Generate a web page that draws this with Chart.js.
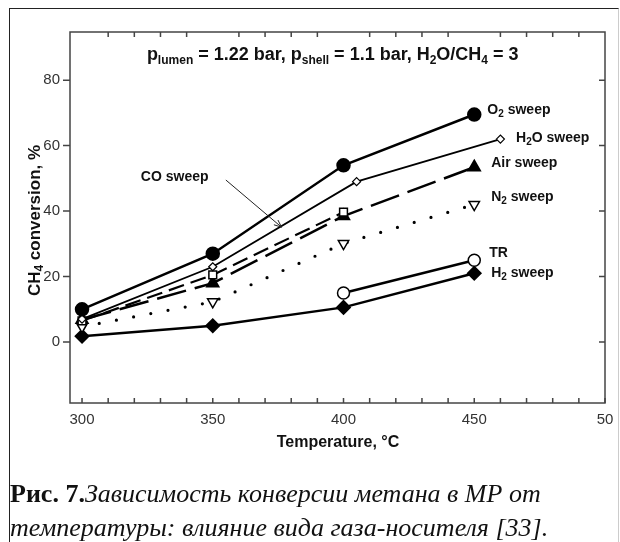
<!DOCTYPE html>
<html>
<head>
<meta charset="utf-8">
<script src="https://cdn.jsdelivr.net/npm/chart.js@4"></script>
<style>
  html, body { margin: 0; padding: 0; background: #fff; }
  #wrap { position: relative; width: 620px; height: 542px; overflow: hidden; }
  #frame { position: absolute; left: 9px; top: 8px; width: 608px; height: 540px;
           border-left: 1.5px solid #222; border-top: 1.5px solid #222; border-right: 1px solid #ccc; }
  canvas { position: absolute; left: 0; top: 0; }
  .cap { position: absolute; left: 10px; font-family: "Liberation Serif", serif; font-size: 26px;
         color: #111; white-space: nowrap; }
  .cap b { font-style: normal; }
  .cap i { font-style: italic; }
</style>
</head>
<body>
<div id="wrap">
  <div id="frame"></div>
  <canvas id="chart" width="620" height="542"></canvas>
  <div class="cap" style="top:479px"><b>Рис. 7.</b><i>Зависимость конверсии метана в МР от</i></div>
  <div class="cap" style="top:513px"><i>температуры: влияние вида газа-носителя [33].</i></div>
</div>
<script>
// data
const temps = [300, 350, 400, 450];
const o2Sweep = [10, 27, 54, 69.5];
const h2oTemps = [300, 350, 405, 460];
const h2oSweep = [7, 23, 49, 62];
const coTemps = [300, 350, 400];
const coSweep = [6.5, 20.5, 39.7];
const airSweep = [6.8, 18, 38.5, 53.4];
const n2Sweep = [4.7, 12.3, 30.1, 42];
const trTemps = [400, 450];
const trValues = [15, 25];
const h2Sweep = [1.8, 5, 10.6, 21];

const xTicks = [300, 350, 400, 450, 500];
const xTickLabels = ["300", "350", "400", "450", "50"];
const yTicks = [0, 20, 40, 60, 80];

// text labels, anchored in data units
const seriesLabels = [
  { x: 455, y: 70.8, parts: ["O", ["2"], " sweep"] },
  { x: 466, y: 62.3, parts: ["H", ["2"], "O sweep"] },
  { x: 456.5, y: 54.7, parts: ["Air sweep"] },
  { x: 456.5, y: 44.3, parts: ["N", ["2"], " sweep"] },
  { x: 455.7, y: 27.2, parts: ["TR"] },
  { x: 456.5, y: 21, parts: ["H", ["2"], " sweep"] },
  { x: 322.5, y: 50.4, parts: ["CO sweep"] }
];
const titleParts = ["p", ["lumen"], " = 1.22 bar, p", ["shell"], " = 1.1 bar, H", ["2"], "O/CH", ["4"], " = 3"];
const arrowFrom = [355, 49.5];
const arrowTo = [376.3, 35.1];

const pts = (xs, ys) => xs.map((x, i) => ({ x: x, y: ys[i] }));
const FONT = '"Liberation Sans", Arial, sans-serif';

function richText(ctx, x, y, parts, size, align) {
  const sub = Math.round(size * 0.68);
  const widths = parts.map(p => {
    ctx.font = "bold " + (Array.isArray(p) ? sub : size) + "px " + FONT;
    return ctx.measureText(Array.isArray(p) ? p[0] : p).width;
  });
  const total = widths.reduce((a, b) => a + b, 0);
  let cx = align === "center" ? x - total / 2 : x;
  ctx.textBaseline = "middle";
  ctx.textAlign = "left";
  parts.forEach((p, i) => {
    if (Array.isArray(p)) {
      ctx.font = "bold " + sub + "px " + FONT;
      ctx.fillText(p[0], cx, y + size * 0.3);
    } else {
      ctx.font = "bold " + size + "px " + FONT;
      ctx.fillText(p, cx, y);
    }
    cx += widths[i];
  });
}

const decor = {
  id: "decor",
  afterDraw(chart) {
    const ctx = chart.ctx;
    const { left, top, right, bottom } = chart.chartArea;
    const xs = chart.scales.x, ys = chart.scales.y;
    ctx.save();
    ctx.strokeStyle = "#444";
    ctx.lineWidth = 1.5;
    ctx.strokeRect(left, top, right - left, bottom - top);
    ctx.beginPath();
    for (let v = 300; v <= 500; v += 10) {
      const px = xs.getPixelForValue(v);
      ctx.moveTo(px, bottom); ctx.lineTo(px, bottom - 5);
      if (v % 50 !== 0) { ctx.moveTo(px, top); ctx.lineTo(px, top + 5); }
    }
    yTicks.forEach(v => {
      const py = ys.getPixelForValue(v);
      ctx.moveTo(left - 7, py); ctx.lineTo(left, py);
      ctx.moveTo(right, py); ctx.lineTo(right - 6, py);
    });
    ctx.stroke();

    ctx.fillStyle = "#111";
    seriesLabels.forEach(l => richText(ctx, xs.getPixelForValue(l.x), ys.getPixelForValue(l.y), l.parts, 14));
    richText(ctx, xs.getPixelForValue(324.8), ys.getPixelForValue(87.6), titleParts, 18);

    // axis titles
    richText(ctx, 338, bottom + 40, ["Temperature, °C"], 16, "center");
    ctx.save();
    ctx.translate(35, (top + bottom) / 2 + 3);
    ctx.rotate(-Math.PI / 2);
    richText(ctx, 0, 0, ["CH", ["4"], " conversion, %"], 17, "center");
    ctx.restore();

    // CO sweep arrow
    const ax = xs.getPixelForValue(arrowFrom[0]), ay = ys.getPixelForValue(arrowFrom[1]);
    const bx = xs.getPixelForValue(arrowTo[0]), by = ys.getPixelForValue(arrowTo[1]);
    const ang = Math.atan2(by - ay, bx - ax);
    ctx.strokeStyle = "#222";
    ctx.lineWidth = 1;
    ctx.beginPath();
    ctx.moveTo(ax, ay); ctx.lineTo(bx, by);
    ctx.moveTo(bx, by); ctx.lineTo(bx - 8 * Math.cos(ang - 0.4), by - 8 * Math.sin(ang - 0.4));
    ctx.moveTo(bx, by); ctx.lineTo(bx - 8 * Math.cos(ang + 0.4), by - 8 * Math.sin(ang + 0.4));
    ctx.stroke();
    ctx.restore();
  }
};

const base = { showLine: true, borderColor: "#000", pointBorderColor: "#000", tension: 0, clip: false };

new Chart(document.getElementById("chart"), {
  type: "scatter",
  data: {
    datasets: [
      { ...base, label: "O2 sweep", data: pts(temps, o2Sweep), borderWidth: 2.5,
        pointStyle: "circle", pointRadius: 6, pointBackgroundColor: "#000" },
      { ...base, label: "H2O sweep", data: pts(h2oTemps, h2oSweep), borderWidth: 1.8,
        pointStyle: "rectRot", pointRadius: 4, pointBorderWidth: 1.2, pointBackgroundColor: "#fff" },
      { ...base, label: "CO sweep", data: pts(coTemps, coSweep), borderWidth: 2.2, borderDash: [16, 7],
        pointStyle: "rect", pointRadius: 5.5, pointBorderWidth: 1.5, pointBackgroundColor: "#fff" },
      { ...base, label: "Air sweep", data: pts(temps, airSweep), borderWidth: 2.5, borderDash: [30, 9],
        pointStyle: "triangle", pointRadius: 6, pointBackgroundColor: "#000" },
      { ...base, label: "N2 sweep", data: pts(temps, n2Sweep), borderWidth: 3.2, borderDash: [0, 17.5],
        borderCapStyle: "round", pointStyle: "triangle", pointRotation: 180, pointRadius: 6,
        pointBorderWidth: 1.5, pointBackgroundColor: "#fff" },
      { ...base, label: "TR", data: pts(trTemps, trValues), borderWidth: 2.5,
        pointStyle: "circle", pointRadius: 6, pointBorderWidth: 1.5, pointBackgroundColor: "#fff" },
      { ...base, label: "H2 sweep", data: pts(temps, h2Sweep), borderWidth: 2.5,
        pointStyle: "rectRot", pointRadius: 6, pointBackgroundColor: "#000" }
    ]
  },
  options: {
    responsive: false,
    animation: false,
    layout: { padding: { left: 0, top: 32, right: 15, bottom: 105 } },
    plugins: { legend: { display: false }, tooltip: { enabled: false } },
    scales: {
      x: {
        type: "linear", min: 295.4, max: 500,
        afterFit: s => { s.height = 34; },
        afterBuildTicks: s => { s.ticks = xTicks.map(v => ({ value: v })); },
        ticks: { autoSkip: false, maxRotation: 0, padding: 0, color: "#333",
                 font: { family: FONT, size: 15 },
                 callback: v => xTickLabels[xTicks.indexOf(v)] },
        grid: { display: false }, border: { display: false }
      },
      y: {
        min: -18.6, max: 94.7,
        afterFit: s => { s.width = 70; },
        afterBuildTicks: s => { s.ticks = yTicks.map(v => ({ value: v })); },
        ticks: { padding: 2, color: "#333", font: { family: FONT, size: 15 } },
        grid: { display: false }, border: { display: false }
      }
    }
  },
  plugins: [decor]
});
</script>
</body>
</html>
